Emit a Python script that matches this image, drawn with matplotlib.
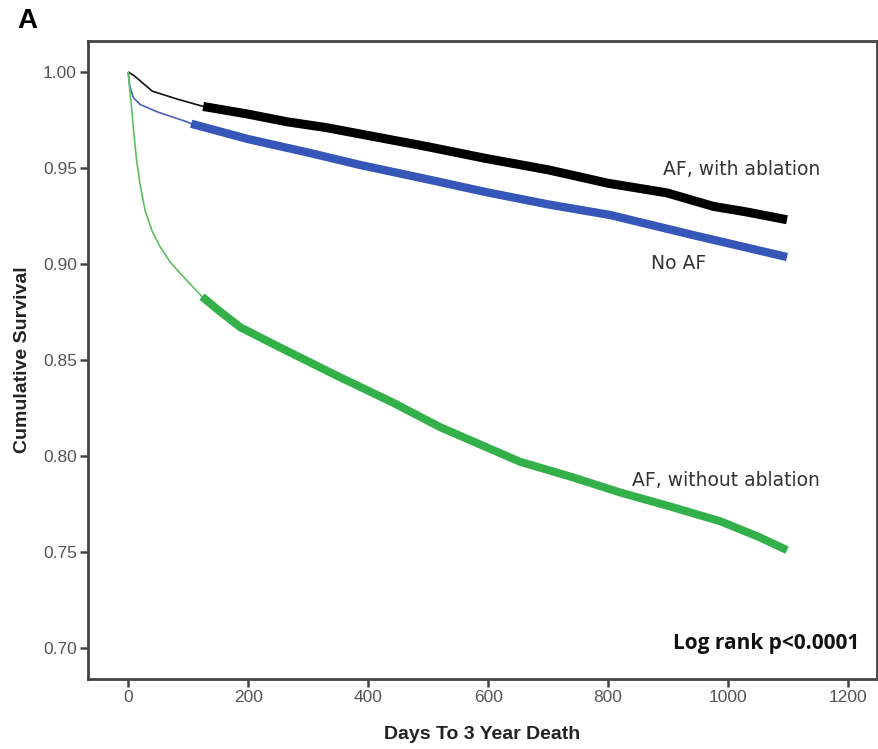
import matplotlib.pyplot as plt

# Kaplan-Meier curves (days, cumulative survival)
days_abl = [0, 5, 10, 25, 40, 80, 125, 200, 265, 330, 398, 500, 595, 700, 800, 898, 975, 1032, 1098]
surv_abl = [1.000, 0.999, 0.998, 0.994, 0.990, 0.986, 0.982, 0.978, 0.974, 0.971, 0.967, 0.961, 0.955,
            0.949, 0.942, 0.937, 0.930, 0.927, 0.923]

days_noaf = [0, 2, 5, 9, 20, 50, 98, 105, 200, 300, 387, 500, 595, 700, 803, 942, 1098]
surv_noaf = [1.000, 0.994, 0.990, 0.9865, 0.983, 0.979, 0.974, 0.973, 0.965, 0.958, 0.9515, 0.944,
             0.9375, 0.931, 0.9255, 0.915, 0.9036]

days_noabl = [0, 1, 3, 6, 10, 14, 20, 28, 40, 53, 70, 87, 105, 123, 150, 187, 250, 353, 440, 520,
              653, 740, 820, 900, 987, 1050, 1098]
surv_noabl = [1.000, 0.996, 0.990, 0.980, 0.966, 0.954, 0.941, 0.928, 0.917, 0.909, 0.901, 0.895,
              0.889, 0.883, 0.876, 0.867, 0.857, 0.841, 0.828, 0.815, 0.797, 0.789, 0.781, 0.774,
              0.766, 0.758, 0.751]

# where the dense censoring marks start (thick part of each curve)
thick_from = {'abl': 125, 'noaf': 105, 'noabl': 123}

xticks = [0, 200, 400, 600, 800, 1000, 1200]
yticks = [0.70, 0.75, 0.80, 0.85, 0.90, 0.95, 1.00]

plt.rcParams['font.family'] = ['Liberation Sans', 'DejaVu Sans']

fig = plt.figure(figsize=(8.79, 7.49), dpi=100)
ax = fig.add_axes([0.1001, 0.0935, 0.8976, 0.8518])

series = [
    (days_abl, surv_abl, thick_from['abl'], '#111111', '#000000', 6.5),
    (days_noaf, surv_noaf, thick_from['noaf'], '#4a62b8', '#3656b8', 6.0),
    (days_noabl, surv_noabl, thick_from['noabl'], '#5cc060', '#34b04a', 5.8),
]
for d, s, t0, thin_c, thick_c, lw in series:
    ax.plot(d, s, color=thin_c, lw=1.2, solid_capstyle='butt', zorder=2)
    dt = [x for x in d if x >= t0]
    st = [y for x, y in zip(d, s) if x >= t0]
    ax.plot(dt, st, color=thick_c, lw=lw, solid_capstyle='butt', solid_joinstyle='round', zorder=3)

ax.set_xlim(-67, 1248)
ax.set_ylim(0.6839, 1.0161)
ax.set_xticks(xticks)
ax.set_xticklabels([str(x) for x in xticks])
ax.set_yticks(yticks)
ax.set_yticklabels(['%.2f' % y for y in yticks])

for sp in ax.spines.values():
    sp.set_color('#444444')
    sp.set_linewidth(2)
ax.tick_params(direction='out', length=6, width=1.8, color='#444444',
               labelsize=12.5, labelcolor='#555555', pad=2)

ax.set_xlabel('Days To 3 Year Death', fontsize=14, fontweight='bold', color='#222222', labelpad=15)
ax.set_ylabel('Cumulative Survival', fontsize=14, fontweight='bold', color='#222222')
ax.yaxis.set_label_coords(-0.072, 0.5)

lbl = dict(fontsize=13.5, color='#333333', va='center', family='DejaVu Sans')
ax.text(892, 0.949, 'AF, with ablation', **lbl)
ax.text(872, 0.900, 'No AF', **lbl)
ax.text(840, 0.787, 'AF, without ablation', **lbl)
ax.text(1218, 0.7026, 'Log rank p<0.0001', fontsize=15, fontweight='bold', color='#111111',
        ha='right', va='center', family='Open Sans')

fig.text(0.02, 0.972, 'A', fontsize=20, fontweight='bold', va='center')

plt.savefig('out.png', dpi=100)
